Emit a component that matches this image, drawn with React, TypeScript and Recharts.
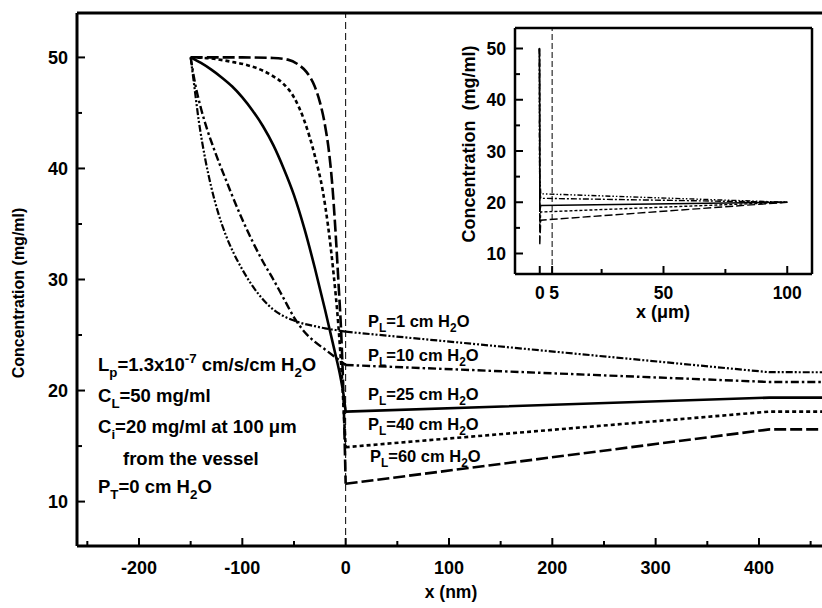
import React from "react";
import { LineChart, Line, XAxis, YAxis, ReferenceLine } from "recharts";

const FONT = '"Liberation Sans", Arial, Helvetica, sans-serif';

// profiles inside the wall, x in nm, concentration in mg/ml
const pl1X = [-150, -147, -142, -136, -130, -124, -116, -108, -100, -90, -80, -70, -60, -50, -40, -30, -20, -10, 0];
const pl1Y = [50, 47.8, 44.2, 40.9, 38.3, 36.2, 34.0, 32.3, 30.9, 29.4, 28.2, 27.3, 26.7, 26.3, 26.0, 25.8, 25.6, 25.45, 25.3];

const pl10X = [-150, -146, -140, -134, -128, -122, -116, -110, -100, -90, -80, -70, -60, -50, -40, -30, -20, -10, 0];
const pl10Y = [50, 47.8, 45.4, 43.5, 41.9, 40.4, 39.0, 37.6, 35.4, 33.4, 31.6, 30.0, 28.3, 26.6, 25.3, 24.4, 23.7, 23.0, 22.3];

const pl25X = [-150, -140, -130, -120, -110, -100, -90, -80, -70, -60, -50, -40, -30, -20, -10, -5, -2, 0];
const pl25Y = [50, 49.5, 48.9, 48.2, 47.4, 46.4, 45.2, 43.8, 42.1, 40.0, 37.6, 34.6, 31.1, 27.3, 23.3, 21.2, 19.6, 18.1];

const pl40X = [-150, -130, -110, -95, -80, -70, -60, -50, -40, -30, -22, -17, -12, -7, -3, -1, 0];
const pl40Y = [50, 49.9, 49.6, 49.3, 48.8, 48.3, 47.6, 46.4, 44.3, 41.2, 37.9, 34.8, 30.8, 25.8, 20.2, 16.6, 14.9];

const pl60X = [-150, -100, -70, -56, -45, -38, -30, -25, -20, -16, -13, -10, -7, -4, -2, -1, 0];
const pl60Y = [50, 50, 49.95, 49.8, 49.3, 48.7, 47.4, 46.0, 43.9, 41.4, 38.6, 34.6, 29.8, 24.5, 19.2, 15.6, 11.6];

// tissue side: x = 0, kink near 410 nm, and 100 um where C_i = 20 mg/ml
const farX = [0, 410, 100000];
const pl1Far = [25.3, 21.65, 20];
const pl10Far = [22.3, 20.77, 20];
const pl25Far = [18.1, 19.36, 20];
const pl40Far = [14.9, 18.1, 20];
const pl60Far = [11.6, 16.5, 20];

const pressures = ["1", "10", "25", "40", "60"];

const mainXTicks = [-250, -200, -150, -100, -50, 0, 50, 100, 150, 200, 250, 300, 350, 400, 450];
const mainXMajor = [-200, -100, 0, 100, 200, 300, 400];
const yTicks = [10, 15, 20, 25, 30, 35, 40, 45, 50];
const yMajor = [10, 20, 30, 40, 50];
const insetXTicks = [0, 5, 25, 50, 75, 100];
const insetXMajor = [0, 5, 50, 100];

const pts = (xs: number[], ys: number[], k = 1) => xs.map((x, i) => ({ x: x * k, y: ys[i] }));

const series = [
  { near: pts(pl1X, pl1Y), far: pts(farX, pl1Far), dash: "7 2 2 2 2 2", insetDash: "5 2 1.5 2 1.5 2", w: 2.2 },
  { near: pts(pl10X, pl10Y), far: pts(farX, pl10Far), dash: "8 3 2.5 3", insetDash: "6 2 2 2", w: 2.4 },
  { near: pts(pl25X, pl25Y), far: pts(farX, pl25Far), dash: undefined, insetDash: undefined, w: 2.6 },
  { near: pts(pl40X, pl40Y), far: pts(farX, pl40Far), dash: "4 3", insetDash: "3 2", w: 2.6 },
  { near: pts(pl60X, pl60Y), far: pts(farX, pl60Far), dash: "12 4", insetDash: "8 3", w: 2.6 },
];

const insetSeries = series.map((s) => ({
  ...s,
  all: [...s.near, ...s.far.slice(1)].map((p) => ({ x: p.x / 1000, y: p.y })),
}));

const txt = (size: number): React.CSSProperties => ({
  fontFamily: FONT,
  fontWeight: "bold",
  fontSize: size,
  fill: "#000",
});

function BottomTick(props: any) {
  const { x, y, payload, major, off, size } = props;
  const v = payload.value;
  const isMajor = major.includes(v);
  return (
    <g>
      <line x1={x} x2={x} y1={y} y2={y - (isMajor ? 8 : 5)} stroke="#000" strokeWidth={2} />
      {isMajor && (
        <text x={x + (v === 5 ? 2 : 0)} y={y + off} textAnchor="middle" style={txt(size)}>
          {v}
        </text>
      )}
    </g>
  );
}

function LeftTick(props: any) {
  const { x, y, payload, size } = props;
  const v = payload.value;
  const isMajor = yMajor.includes(v);
  return (
    <g>
      <line x1={x} x2={x + (isMajor ? 8 : 5)} y1={y} y2={y} stroke="#000" strokeWidth={2} />
      {isMajor && (
        <text x={x - 9} y={y + 6.5} textAnchor="end" style={txt(size)}>
          {v}
        </text>
      )}
    </g>
  );
}

// parts: [text, 0 normal | 1 subscript | -1 superscript]
function Rich({ x, y, size, parts }: { x: number; y: number; size: number; parts: [string, number][] }) {
  const shift = (k: number) => (k === 1 ? size * 0.32 : k === -1 ? -size * 0.42 : 0);
  let prev = 0;
  return (
    <text x={x} y={y} style={txt(size)}>
      {parts.map(([t, k], i) => {
        const dy = shift(k) - shift(prev);
        prev = k;
        return (
          <tspan key={i} dy={dy} style={k !== 0 ? { fontSize: size * 0.72 } : undefined}>
            {t}
          </tspan>
        );
      })}
    </text>
  );
}

function Overlay() {
  const plY = [327, 361, 400, 430, 462];
  return (
    <svg width={822} height={608} style={{ position: "absolute", left: 0, top: 0, pointerEvents: "none" }}>
      <text transform="translate(24,293) rotate(-90)" textAnchor="middle" style={txt(16)}>
        Concentration (mg/ml)
      </text>
      <text x={451} y={598} textAnchor="middle" style={txt(17.5)}>x (nm)</text>
      <text transform="translate(475,144) rotate(-90)" textAnchor="middle" style={txt(18)}>
        {"Concentration\u00a0 (mg/ml)"}
      </text>
      <text x={663} y={318} textAnchor="middle" style={txt(18)}>x (μm)</text>

      {pressures.map((p, i) => (
        <Rich
          key={p}
          x={i === 4 ? 370 : 368}
          y={plY[i]}
          size={16.5}
          parts={[["P", 0], ["L", 1], [`=${p} cm H`, 0], ["2", 1], ["O", 0]]}
        />
      ))}

      <Rich
        x={98}
        y={371}
        size={18.5}
        parts={[["L", 0], ["p", 1], ["=1.3x10", 0], ["-7", -1], [" cm/s/cm H", 0], ["2", 1], ["O", 0]]}
      />
      <Rich x={98} y={402} size={18.5} parts={[["C", 0], ["L", 1], ["=50 mg/ml", 0]]} />
      <Rich x={98} y={433} size={18.5} parts={[["C", 0], ["i", 1], ["=20 mg/ml at 100 μm", 0]]} />
      <text x={123} y={465} style={txt(18.5)}>from the vessel</text>
      <Rich x={98} y={493} size={18.5} parts={[["P", 0], ["T", 1], ["=0 cm H", 0], ["2", 1], ["O", 0]]} />
    </svg>
  );
}

export default function App() {
  return (
    <div style={{ position: "absolute", left: 0, top: 0, width: 822, height: 608, background: "#fff" }}>
      <LineChart width={822} height={608} margin={{ top: 13, right: 0, bottom: 0, left: 0 }}>
        <XAxis
          type="number"
          dataKey="x"
          domain={[-260, 461]}
          allowDataOverflow
          ticks={mainXTicks}
          interval={0}
          height={62}
          tickSize={0}
          tickMargin={0}
          tickLine={false}
          axisLine={{ stroke: "#000", strokeWidth: 3 }}
          tick={(p: any) => <BottomTick {...p} major={mainXMajor} off={27.5} size={18} />}
        />
        <YAxis
          type="number"
          dataKey="y"
          domain={[6, 54]}
          allowDataOverflow
          ticks={yTicks}
          interval={0}
          width={77}
          tickSize={0}
          tickMargin={0}
          tickLine={false}
          axisLine={{ stroke: "#000", strokeWidth: 3 }}
          tick={(p: any) => <LeftTick {...p} size={18} />}
        />
        <ReferenceLine y={54} stroke="#000" strokeWidth={3} />
        <ReferenceLine x={0} stroke="#000" strokeWidth={1} strokeDasharray="7 4" />
        {series.map((s, i) => (
          <Line
            key={`n${i}`}
            data={s.near}
            dataKey="y"
            type="monotone"
            dot={false}
            stroke="#000"
            strokeWidth={s.w}
            strokeDasharray={s.dash}
            isAnimationActive={false}
          />
        ))}
        {series.map((s, i) => (
          <Line
            key={`f${i}`}
            data={s.far}
            dataKey="y"
            type="linear"
            dot={false}
            stroke="#000"
            strokeWidth={s.w}
            strokeDasharray={s.dash}
            isAnimationActive={false}
          />
        ))}
      </LineChart>

      <div style={{ position: "absolute", left: 440, top: 0 }}>
        <LineChart width={382} height={340} margin={{ top: 28, right: 10, bottom: 0, left: 0 }}>
          <XAxis
            type="number"
            dataKey="x"
            domain={[-10, 110]}
            allowDataOverflow
            ticks={insetXTicks}
            interval={0}
            height={66}
            tickSize={0}
            tickMargin={0}
            tickLine={false}
            axisLine={{ stroke: "#000", strokeWidth: 2.5 }}
            tick={(p: any) => <BottomTick {...p} major={insetXMajor} off={25} size={17.5} />}
          />
          <YAxis
            type="number"
            dataKey="y"
            domain={[6, 54]}
            allowDataOverflow
            ticks={yTicks}
            interval={0}
            width={75}
            tickSize={0}
            tickMargin={0}
            tickLine={false}
            axisLine={{ stroke: "#000", strokeWidth: 2.5 }}
            tick={(p: any) => <LeftTick {...p} size={17.5} />}
          />
          <ReferenceLine y={54} stroke="#000" strokeWidth={2.5} />
          <ReferenceLine x={110} stroke="#000" strokeWidth={2.5} />
          <ReferenceLine x={5} stroke="#000" strokeWidth={1} strokeDasharray="6 3" />
          {insetSeries.map((s, i) => (
            <Line
              key={`i${i}`}
              data={s.all}
              dataKey="y"
              type="linear"
              dot={false}
              stroke="#000"
              strokeWidth={1.4}
              strokeDasharray={s.insetDash}
              isAnimationActive={false}
            />
          ))}
        </LineChart>
      </div>

      <Overlay />
    </div>
  );
}
